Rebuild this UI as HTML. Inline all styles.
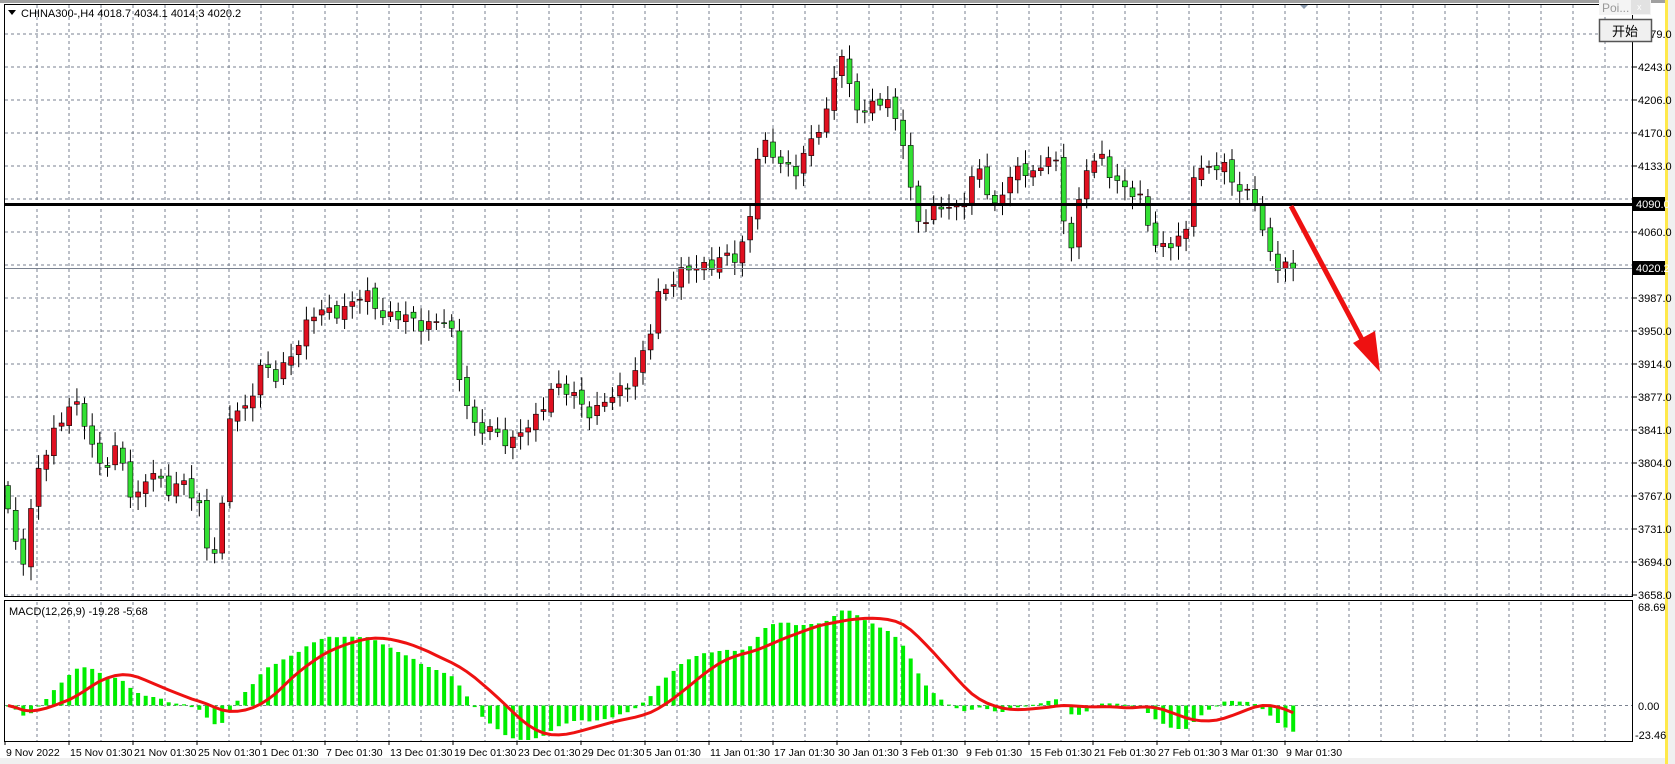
<!DOCTYPE html>
<html><head><meta charset="utf-8"><style>
html,body{margin:0;padding:0;background:#fff;}
#w{width:1675px;height:764px;overflow:hidden;}
svg{display:block;font-family:"Liberation Sans","Noto Sans CJK SC",sans-serif;}
</style></head><body>
<div id="w"></div>
<script>
var h='';
function P(p){return 34+(4279-p)*0.905;}
h+='<rect x="0" y="0" width="1675" height="764" fill="#fff"/>';
h+='<rect x="0" y="0" width="1675" height="3" fill="#a0a0a0"/>';
h+='<rect x="1665" y="0" width="3" height="764" fill="#ffe94a"/>';
h+='<rect x="1668" y="0" width="7" height="764" fill="#f0f0f0"/>';
h+='<rect x="0" y="758" width="1665" height="6" fill="#f0f0f0"/>';
var g='';
for(var x=37;x<1633;x+=32){g+='M'+x+' 5V596M'+x+' 602V741';}
for(var k=0;k<18;k++){var yy=34+k*33;g+='M5 '+yy+'H1632';}
g+='M5 705.5H1632';
h+='<path d="'+g+'" stroke="#7a8290" stroke-width="1" stroke-dasharray="3,3" fill="none"/>';
h+='<path d="M4.5 4.5H1632.5V596.5H4.5Z M4.5 600.5H1632.5V741.5H4.5Z" stroke="#000" stroke-width="1" fill="none"/>';
var lab=[[34,'4279.0'],[67,'4243.0'],[100,'4206.0'],[133,'4170.0'],[166,'4133.0'],[232,'4060.0'],[298,'3987.0'],[331,'3950.0'],[364,'3914.0'],[397,'3877.0'],[430,'3841.0'],[463,'3804.0'],[496,'3767.0'],[529,'3731.0'],[562,'3694.0'],[595,'3658.0']];
for(var q=0;q<lab.length;q++){var l=lab[q];h+='<path d="M1633 '+l[0]+'h4" stroke="#000"/><text x="1638" y="'+(l[0]+4)+'" font-size="11" fill="#000">'+l[1]+'</text>';}
h+='<text x="1638" y="611" font-size="11">68.69</text><text x="1638" y="710" font-size="11">0.00</text><text x="1635" y="739" font-size="11">-23.46</text>';
var tl=['9 Nov 2022','15 Nov 01:30','21 Nov 01:30','25 Nov 01:30','1 Dec 01:30','7 Dec 01:30','13 Dec 01:30','19 Dec 01:30','23 Dec 01:30','29 Dec 01:30','5 Jan 01:30','11 Jan 01:30','17 Jan 01:30','30 Jan 01:30','3 Feb 01:30','9 Feb 01:30','15 Feb 01:30','21 Feb 01:30','27 Feb 01:30','3 Mar 01:30','9 Mar 01:30'];
for(var q=0;q<tl.length;q++){var tx=5+q*64;h+='<path d="M'+tx+' 741v4" stroke="#000"/><text x="'+(tx+1)+'" y="756" font-size="10.5">'+tl[q]+'</text>';}
var kp=[[5,3767],[20,3690],[35,3790],[50,3840],[65,3870],[75,3860],[95,3800],[110,3820],[125,3760],[140,3800],[155,3770],[170,3790],[185,3760],[195,3700],[205,3720],[215,3860],[230,3860],[245,3920],[260,3895],[275,3930],[290,3970],[310,3970],[340,3990],[360,3970],[390,3960],[420,3960],[430,3900],[445,3840],[460,3840],[480,3830],[500,3850],[515,3890],[535,3880],[555,3860],[575,3880],[590,3900],[605,3930],[615,3990],[630,4010],[650,4020],[670,4030],[690,4030],[700,4070],[710,4160],[725,4140],[745,4130],[760,4160],[775,4200],[785,4270],[795,4210],[805,4190],[820,4210],[830,4200],[845,4160],[855,4080],[865,4070],[880,4090],[900,4090],[915,4130],[930,4090],[945,4120],[960,4130],[975,4130],[985,4160],[990,4100],[1000,4040],[1015,4130],[1030,4140],[1050,4110],[1070,4090],[1075,4060],[1090,4040],[1110,4060],[1115,4130],[1130,4130],[1145,4130],[1160,4110],[1175,4090],[1180,4060],[1190,4030],[1200,4025],[1210,4020]];
var N=169,sp=7.65,x0=8;
function idx(vx){return (vx/0.935-x0)/sp;}
var cl=[];
for(var i=0;i<N;i++){var j=0;while(j<kp.length-2&&idx(kp[j+1][0])<i)j++;
var a=kp[j],b=kp[j+1],ia=idx(a[0]),ib=idx(b[0]);var tt=(i-ia)/(ib-ia);if(tt<0)tt=0;if(tt>1)tt=1;
cl.push(a[1]+(b[1]-a[1])*tt+Math.sin(i*2.3)*6+Math.sin(i*5.1)*4);}
cl[N-1]=4020.2;
try{
var c='';
for(var i=0;i<N;i++){var o=i?cl[i-1]+Math.sin(i*3.7)*3:3780,cc=cl[i];
var hi=Math.max(o,cc)+5+Math.abs(Math.sin(i*1.9))*10,lo=Math.min(o,cc)-5-Math.abs(Math.sin(i*2.7))*10;
var cx=x0+i*sp;
c+='<path d="M'+cx.toFixed(1)+' '+P(hi).toFixed(1)+'V'+P(lo).toFixed(1)+'" stroke="#000" stroke-width="1"/>';
var btop=P(Math.max(o,cc)),bh=Math.max(1,Math.abs(P(o)-P(cc)));
c+='<rect x="'+(cx-2.5).toFixed(1)+'" y="'+btop.toFixed(1)+'" width="5" height="'+bh.toFixed(1)+'" fill="'+(cc>=o?'#e01020':'#33e033')+'" stroke="#000" stroke-width="0.6"/>';}
h+=c;
}catch(e){}
h+='<path d="M5 204.5H1632" stroke="#000" stroke-width="3"/>';
h+='<path d="M5 268.5H1632" stroke="#7a8290" stroke-width="1"/>';
h+='<rect x="1633" y="197" width="32" height="14" fill="#000"/><text x="1636" y="208" font-size="11" fill="#fff">4090.0</text>';
h+='<rect x="1633" y="261" width="32" height="14" fill="#000"/><text x="1636" y="272" font-size="11" fill="#fff">4020.2</text>';
h+='<path d="M1291 206L1366 347" stroke="#ee1111" stroke-width="5"/><path d="M1380 372L1353 343L1375 331Z" fill="#ee1111"/>';
try{
function ema(arr,n){var k2=2/(n+1),r=[arr[0]];for(var i2=1;i2<arr.length;i2++)r.push(arr[i2]*k2+r[i2-1]*(1-k2));return r;}
var e12=ema(cl,12),e26=ema(cl,26),m=[];for(var i=0;i<N;i++)m.push(e12[i]-e26[i]);
var mx=1;for(var i=0;i<N;i++)mx=Math.max(mx,m[i]);var sc=95/mx;
var sg=[];for(var i=0;i<N;i++){var s=0,n=0;for(var k=Math.max(0,i-8);k<=i;k++){s+=m[k];n++;}sg.push(s/n);}
var hb='';for(var i=0;i<N;i++){var bx=x0+i*sp,by=705.5-m[i]*sc;by=Math.max(602,Math.min(740,by));hb+='<rect x="'+(bx-2).toFixed(1)+'" y="'+Math.min(by,705.5).toFixed(1)+'" width="4" height="'+Math.max(1,Math.abs(by-705.5)).toFixed(1)+'" fill="#00ee00"/>';}
h+=hb;var pl='';for(var i=0;i<N;i++){var py=Math.max(602,Math.min(740,705.5-sg[i]*sc));pl+=(i?'L':'M')+(x0+i*sp).toFixed(1)+' '+py.toFixed(1);}
h+='<path d="'+pl+'" stroke="#ee1111" stroke-width="3" fill="none"/>';
}catch(e){}
h+='<path d="M8 10h8l-4 5z" fill="#000"/><text x="21" y="17" font-size="11">CHINA300-,H4  4018.7 4034.1 4014.3 4020.2</text>';
h+='<text x="9" y="615" font-size="11">MACD(12,26,9) -19.28 -5.68</text>';
h+='<path d="M1300 5l4 4 4-4z" fill="#8a9aae"/>';
h+='<rect x="1599" y="0" width="52" height="15" fill="#f4f4f4"/><text x="1602" y="12" font-size="12" fill="#999">Poi...</text><rect x="1631" y="0" width="19" height="14" fill="#e2e2e2"/><text x="1637" y="10" font-size="9" fill="#fff">x</text>';
h+='<rect x="1599.5" y="19.5" width="52" height="22" fill="#f0f0f0" stroke="#555" stroke-width="1.5"/><text x="1612" y="36" font-size="13" fill="#000">开始</text>';
document.getElementById('w').innerHTML='<svg width="1675" height="764" xmlns="http://www.w3.org/2000/svg">'+h+'</svg>';
</script>
</body></html>
